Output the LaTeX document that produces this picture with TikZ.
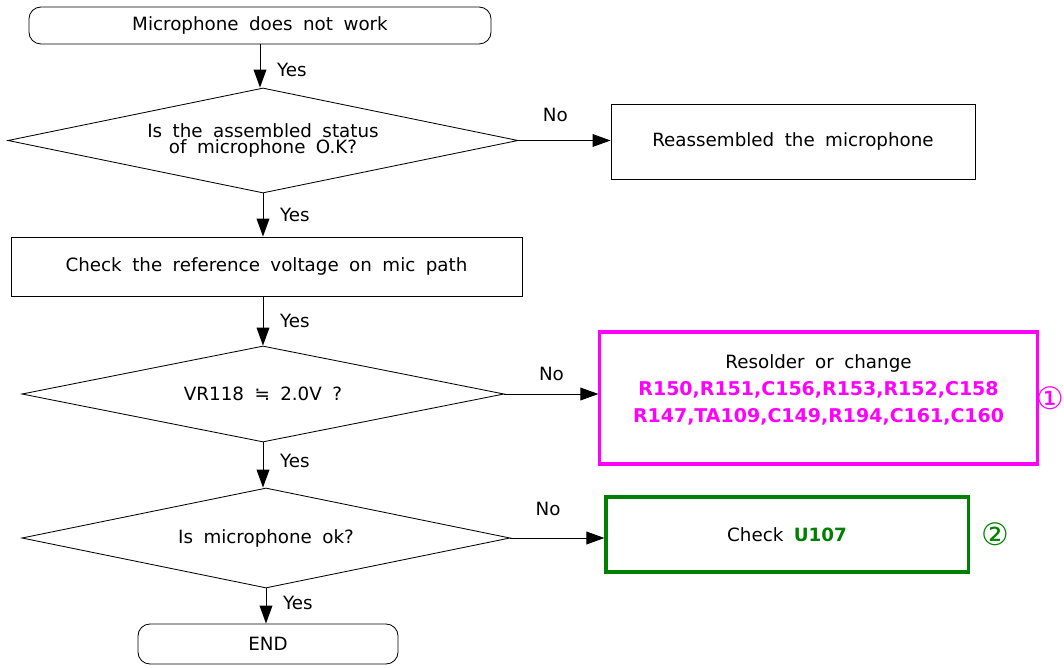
\documentclass[tikz,border=0pt]{standalone}
\usepackage{fontspec}
\setmainfont{DejaVu Sans}[WordSpace=1.8]
\usetikzlibrary{positioning,shapes.geometric,arrows.meta}
\definecolor{partmag}{HTML}{FF00FF}
\definecolor{partgrn}{HTML}{008000}

\begin{document}
\begin{tikzpicture}[
  x=0.025cm, y=-0.025cm,
  font=\fontsize{13}{11.5}\selectfont,
  term/.style={rectangle, draw, rounded corners=0.3cm, line width=0.6pt, align=center},
  box/.style={rectangle, draw, line width=0.6pt, align=center},
  decision/.style={diamond, draw, aspect=4.8, inner sep=0pt, line width=0.6pt, align=center},
  arrow/.style={-{Triangle[length=0.45cm,width=0.32cm]}, line width=0.7pt},
  circnum/.style={font=\fontsize{22}{22}\selectfont, inner sep=0pt},
]
\useasboundingbox (0,0) rectangle (1064,668);
% left column
\node[term, minimum width=11.55cm, minimum height=0.925cm] (start) at (260,25.5) {Microphone does not work};
\node[decision, minimum width=12.75cm, minimum height=2.625cm] (asm) at (263,140.5) {Is the assembled status\\of microphone O.K?};
\node[box, minimum width=12.775cm, minimum height=1.475cm] (vref) at (266.5,266.5) {Check the reference voltage on mic path};
\node[decision, minimum width=12.05cm, minimum height=2.4cm] (volt) at (263,394) {VR118 ≒ 2.0V ?};
\node[decision, minimum width=12.2cm, minimum height=2.5cm] (micok) at (266,538) {Is microphone ok?};
\node[term, minimum width=6.5cm, minimum height=1cm] (end) at (268,644) {END};
% right column
\node[box, minimum width=9.1cm, minimum height=1.875cm] (reasm) at (793,141.5) {Reassembled the microphone};
\node[box, draw=partmag, line width=2.2pt, minimum width=10.925cm, minimum height=3.3cm,
  font=\fontsize{13}{19.5}\selectfont] (resold) at (818.5,398)
  {Resolder or change\\
   {\fontsize{13.5}{19.5}\selectfont\color{partmag}\bfseries R150,R151,C156,R153,R152,C158}\\
   {\fontsize{13.5}{19.5}\selectfont\color{partmag}\bfseries R147,TA109,C149,R194,C161,C160}\\[-6pt]\mbox{}};
\node[box, draw=partgrn, line width=2.2pt, minimum width=9.05cm, minimum height=1.875cm] (chk) at (787,534.5)
  {Check \textcolor{partgrn}{\bfseries U107}};
\node[circnum, text=partmag, right=-0.05cm of resold] (one) {①};
\node[circnum, text=partgrn, right=0.3cm of chk] (two) {②};
% connectors
\draw[arrow] (start.south) -- (start.south |- asm.north) node[pos=0.6, right=0.3cm] {Yes};
\draw[arrow] (asm.south) -- (asm.south |- vref.north) node[midway, right=0.3cm] {Yes};
\draw[arrow] (volt.north |- vref.south) -- (volt.north) node[midway, right=0.3cm] {Yes};
\draw[arrow] (volt.south) -- (volt.south |- micok.north) node[pos=0.4, right=0.3cm] {Yes};
\draw[arrow] (micok.south) -- (micok.south |- end.north) node[pos=0.4, right=0.3cm] {Yes};
\draw[arrow] (asm.east) -- (asm.east -| reasm.west) node[pos=0.4, above=0.35cm] {No};
\draw[arrow] (volt.east) -- (volt.east -| resold.west) node[midway, above=0.2cm] {No};
\draw[arrow] (micok.east) -- (micok.east -| chk.west) node[pos=0.4, above=0.42cm] {No};
\end{tikzpicture}
\end{document}
